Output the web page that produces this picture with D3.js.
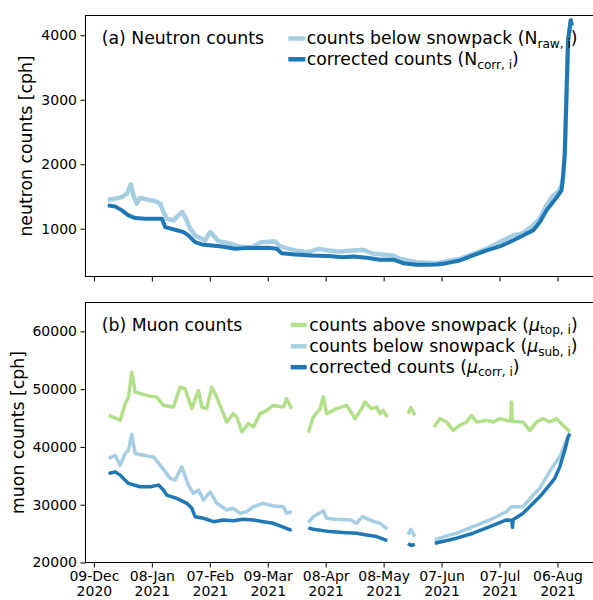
<!DOCTYPE html>
<html><head><meta charset="utf-8">
<script src="https://cdn.jsdelivr.net/npm/d3@7"></script>
<style>
body{margin:0;background:#fff}
svg{display:block;font-family:"DejaVu Sans",sans-serif}
</style>
</head><body>
<svg id="chart" width="593" height="600"></svg>
<script>
// ---------- data (days since 2020-12-09) ----------
const baseDate = new Date(Date.UTC(2020, 11, 9));
const tickDays = [0, 30, 60, 90, 120, 150, 180, 210, 240];
const tickLabels = [["09-Dec","2020"],["08-Jan","2021"],["07-Feb","2021"],["09-Mar","2021"],["08-Apr","2021"],["08-May","2021"],["07-Jun","2021"],["07-Jul","2021"],["06-Aug","2021"]];
const neutronTicks = [1000, 2000, 3000, 4000];
const muonTicks = [20000, 30000, 40000, 50000, 60000];

const nRawDay = [7.2,11,14.5,17.1,17.9,19.1,20.5,22.2,23.9,28.2,31.7,34.3,36,37.8,41.2,43.8,45.8,48.1,49.8,52.4,57.6,60.2,61.9,64.5,69.6,74.8,81.7,86.9,93.8,96.4,104.1,111,116.2,121.3,127.4,139.5,144.6,155,158.4,167.1,177.4,189.5,203.3,217,222.2,227.4,230.8,234.3,237.7,240.3,242.1,242.9,243.8,244.7,245.5,246.9,247.4];
const nRaw    = [1450,1466,1491,1543,1595,1688,1517,1388,1481,1450,1429,1388,1258,1155,1129,1207,1258,1129,1000,896,818,947,896,807,776,725,714,792,807,725,663,637,689,663,647,674,612,585,534,481,466,534,689,896,932,1051,1155,1362,1517,1568,1672,1801,2165,3096,3924,4234,4150];

const nCorrDay = [7.2,11,14.5,17.9,21.4,26.5,31.7,35.2,36.9,42,46.4,48.9,52.4,55.9,61,66.2,73.1,78.3,83.4,90.3,94.7,97.2,104.1,112.8,121.3,129.1,134.3,141.2,148.1,155,160.1,167.1,172.2,177.4,182.6,189.5,196.3,203.3,210.2,217,222.2,227.4,230.8,234.3,237.7,240.3,242.1,242.9,243.8,244.7,245.5,246.9,247.4];
const nCorr    = [1362,1346,1284,1207,1165,1155,1155,1155,1025,984,947,896,792,756,741,725,689,699,699,705,689,621,601,585,575,559,570,550,519,519,466,441,441,446,466,508,585,663,725,818,896,974,1102,1284,1413,1517,1595,1801,2165,3096,3924,4234,4150];

// muon series (null = gap in record)
const muTopDay = [7.6,10,13.6,16.2,17.9,19.6,21.4,27.4,32.6,36,41.2,44.6,47.2,50.7,54.1,55.9,58.4,61,63.6,68.8,72.2,74,76.6,80,82.6,86,89.5,92.9,98.1,99.8,102.4,106,
  111,113.6,117.1,118.8,120.5,125.7,130.9,135.2,138.6,140.3,143.8,146.4,148.1,149.8,151.9,157,
  162.7,164,166.2,171,
  176.2,179.1,182.6,186,189.5,192.9,195.5,198.1,203.3,206.7,210.2,213.6,215.8,216.2,216.6,222.2,225.7,229.1,232.6,236,239.5,242.1,244.7,246.4];
const muTop = [45466,45172,44603,47483,48621,52931,49483,48914,48621,47190,46897,50345,50069,46621,49776,46897,46621,50345,48621,44310,45759,45172,42586,44034,43448,45759,46327,47190,46897,48345,46621,null,
  42450,45172,46621,48700,45759,46621,47190,44897,46621,47759,46621,46897,45759,46327,45172,null,
  45759,46793,45500,null,
  43448,44897,44310,42879,43741,44310,45466,44310,44603,44310,44897,44603,44500,47759,44400,44310,42879,44310,44897,44310,44897,44034,43172,42586];

const muSubDay = [7.6,11,13.6,16.2,17.9,19.6,21.4,25.7,30.9,34.3,39.5,42,45.5,48.9,51.5,54.1,56.7,60.2,63.6,68.8,72.2,75.7,79.1,82.6,87.7,92.9,98.1,99.8,102.4,106,
  111,113.6,118.8,120.5,125,133,136,139,145,148.1,151.9,157,
  162.7,164,166.2,171,
  176.5,182.6,187.8,196.3,205,213.6,216.2,222.2,227.4,230.8,234.3,237.7,241.2,244.7,246.4];
const muSub = [38000,38569,36845,38862,39431,42190,38862,38569,38276,36845,34552,34259,36552,33397,31965,32534,30810,32241,30241,29086,29379,28517,28793,29655,30241,29776,29655,28517,28793,null,
  26900,27931,28950,27655,27483,27362,26793,27931,27069,26793,25759,null,
  24800,25759,24483,null,
  23914,24603,25069,26207,27362,28793,29655,29655,31672,32828,34828,36672,38276,41155,42310];

const muCorrDay = [7.6,11,13.6,17.9,23.9,29.1,33.5,36,37.7,42.9,48.1,50.7,52.4,56.7,61.9,67.1,72.2,77.4,82.6,87.7,92.9,98.1,101.6,102.4,106,
  111,113.6,122.2,129.1,136,141.2,146.4,151.9,157,
  162.7,164,166.2,171,
  176.5,187.8,196.3,205,213.6,216.4,216.7,217,222.2,227.4,230.8,235.1,238.6,241.2,243.8,245.5,246.4];
const muCorr = [35414,35690,35121,33690,33103,33103,33397,32534,31672,31103,30241,29379,27931,27655,27069,27362,27241,27483,27362,27069,26793,26103,25638,25750,null,
  26000,25759,25345,25172,25069,24776,24483,23793,null,
  23300,22950,23100,null,
  23345,24207,25069,26207,27362,27300,26100,27400,28517,30241,31379,33103,34552,36552,39431,41724,42310];

const colLightBlue = "#a6cee3", colDarkBlue = "#1f78b4", colGreen = "#b2df8a";

// ---------- layout ----------
const svg = d3.select("#chart");
const L = 85.5, R = 598.6;
const topP = {t: 15.5, b: 276.5};
const botP = {t: 302.5, b: 562.5};
const toDate = d => new Date(baseDate.getTime() + d * 86400000);

const x = d3.scaleTime().domain([toDate(-4.35), toDate(261.3)]).range([L, R]);
const yN = d3.scaleLinear().domain([259, 4306]).range([topP.b, topP.t]);
const yM = d3.scaleLinear().domain([20000, 65000]).range([botP.b, botP.t]);

function zipSeries(days, vals){ return days.map((d,i)=>({t: toDate(d), v: vals[i]})); }

function drawLine(y, days, vals, color, w){
  const line = d3.line().defined(d => d.v != null).x(d => x(d.t)).y(d => y(d.v));
  svg.append("path").datum(zipSeries(days, vals))
    .attr("fill","none").attr("stroke",color).attr("stroke-width",w)
    .attr("stroke-linejoin","round").attr("d", line);
}

function panelAxes(y, p, yTicks, showXLabels){
  // y axis
  const gy = svg.append("g").attr("transform",`translate(${L},0)`)
    .call(d3.axisLeft(y).tickValues(yTicks).tickSize(5).tickPadding(3.5).tickFormat(d3.format("d")));
  gy.select(".domain").remove();
  gy.selectAll("line").attr("stroke","#000").attr("stroke-width",1);
  gy.selectAll("text").attr("font-family","DejaVu Sans").attr("font-size",14).attr("fill","#000");
  // x axis
  const gx = svg.append("g").attr("transform",`translate(0,${p.b})`)
    .call(d3.axisBottom(x).tickValues(tickDays.map(toDate)).tickSize(5).tickFormat(""));
  gx.select(".domain").remove();
  gx.selectAll("line").attr("stroke","#000").attr("stroke-width",1);
  if(showXLabels){
    gx.selectAll(".tick").each(function(d,i){
      const t = d3.select(this).select("text").text(null)
        .attr("font-family","DejaVu Sans").attr("font-size",14).attr("fill","#000").attr("y",null).attr("dy",null);
      t.append("tspan").attr("x",0).attr("y",18.3).text(tickLabels[i][0]);
      t.append("tspan").attr("x",0).attr("y",33.6).text(tickLabels[i][1]);
    });
  }
  // frame
  svg.append("rect").attr("x",L).attr("y",p.t).attr("width",R-L).attr("height",p.b-p.t)
    .attr("fill","none").attr("stroke","#000").attr("stroke-width",1);
}

// ---------- panel (a) ----------
drawLine(yN, nRawDay, nRaw, colLightBlue, 4.5);
drawLine(yN, nCorrDay, nCorr, colDarkBlue, 4);
panelAxes(yN, topP, neutronTicks, false);

// ---------- panel (b) ----------
drawLine(yM, muTopDay, muTop, colGreen, 3.5);
drawLine(yM, muSubDay, muSub, colLightBlue, 3.5);
drawLine(yM, muCorrDay, muCorr, colDarkBlue, 3.5);
panelAxes(yM, botP, muonTicks, true);

// ---------- labels ----------
const FS = 17.3;
svg.append("text").attr("transform",`translate(32,${(topP.t+topP.b)/2}) rotate(-90)`)
  .attr("text-anchor","middle").attr("font-size",FS).text("neutron counts [cph]");
svg.append("text").attr("transform",`translate(23.5,${(botP.t+botP.b)/2}) rotate(-90)`)
  .attr("text-anchor","middle").attr("font-size",FS).text("muon counts [cph]");

svg.append("text").attr("x",101.7).attr("y",44.3).attr("font-size",FS).text("(a) Neutron counts");
svg.append("text").attr("x",101.7).attr("y",330.5).attr("font-size",FS).text("(b) Muon counts");

function legendEntry(x0, x1, yl, tx, tb, color, pre, sym, symItalic, sub){
  svg.append("line").attr("x1",x0).attr("x2",x1).attr("y1",yl).attr("y2",yl)
    .attr("stroke",color).attr("stroke-width",4.5);
  const t = svg.append("text").attr("x",tx).attr("y",tb).attr("font-size",FS);
  t.append("tspan").text(pre + "(");
  t.append("tspan").attr("font-style", symItalic ? "italic" : "normal").text(sym);
  t.append("tspan").attr("font-size",FS*0.7).attr("dy",3.6).text(sub);
  t.append("tspan").attr("dy",-3.6).text(")");
}
legendEntry(288.3, 305.3, 38.5, 306.7, 44.3, colLightBlue, "counts below snowpack ", "N", false, "raw, i");
legendEntry(288.3, 305.3, 59.3, 306.7, 65.1, colDarkBlue, "corrected counts ", "N", false, "corr, i");

legendEntry(290.7, 306.7, 325, 309.3, 330.7, colGreen, "counts above snowpack ", "μ", true, "top, i");
legendEntry(290.7, 306.7, 346.3, 309.3, 352, colLightBlue, "counts below snowpack ", "μ", true, "sub, i");
legendEntry(290.7, 306.7, 367.2, 309.3, 372.7, colDarkBlue, "corrected counts ", "μ", true, "corr, i");
</script>
</body></html>
